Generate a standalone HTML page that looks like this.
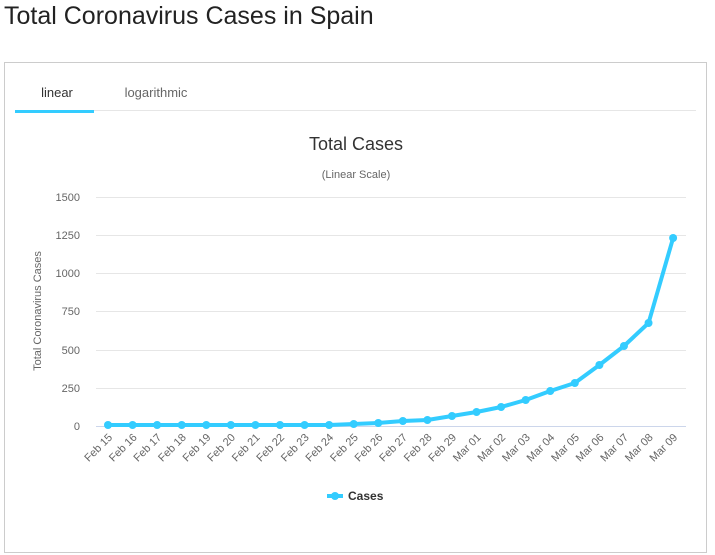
<!DOCTYPE html>
<html><head><meta charset="utf-8"><style>
body{margin:0;background:#fff;width:715px;height:555px;overflow:hidden;font-family:"Liberation Sans",sans-serif}
h1{position:absolute;left:4px;top:2px;margin:0;font-weight:normal;font-size:25px;color:#222}
.card{position:absolute;left:4px;top:62px;width:701px;height:489px;border:1px solid #ccc}
</style></head><body>
<h1>Total Coronavirus Cases in Spain</h1>
<div class="card"></div>
<svg width="715" height="555" style="position:absolute;left:0;top:0" font-family="Liberation Sans, sans-serif">
<line x1="15" y1="110.5" x2="696" y2="110.5" stroke="#e6e6e6"/>
<rect x="15" y="110" width="79" height="3" fill="#33ccff"/>
<text x="57" y="97" font-size="13" fill="#333" text-anchor="middle">linear</text>
<text x="156" y="97" font-size="13" fill="#666" text-anchor="middle">logarithmic</text>
<text x="356" y="150" font-size="18" fill="#333" text-anchor="middle">Total Cases</text>
<text x="356" y="178" font-size="11" fill="#666" text-anchor="middle">(Linear Scale)</text>
<g stroke="#e6e6e6">
<line x1="96" y1="197.5" x2="686" y2="197.5"/><line x1="96" y1="235.5" x2="686" y2="235.5"/>
<line x1="96" y1="273.5" x2="686" y2="273.5"/><line x1="96" y1="311.5" x2="686" y2="311.5"/>
<line x1="96" y1="350.5" x2="686" y2="350.5"/><line x1="96" y1="388.5" x2="686" y2="388.5"/>
</g>
<line x1="96" y1="426.5" x2="686" y2="426.5" stroke="#ccd6eb"/>
<g font-size="11" fill="#666" text-anchor="end">
<text x="80" y="201">1500</text><text x="80" y="239">1250</text><text x="80" y="277">1000</text>
<text x="80" y="315">750</text><text x="80" y="354">500</text><text x="80" y="392">250</text><text x="80" y="430">0</text>
</g>
<text transform="translate(41,311) rotate(-90)" font-size="11" fill="#666" text-anchor="middle">Total Coronavirus Cases</text>
<g font-size="11" fill="#666" text-anchor="end" id="xl"></g>
<polyline fill="none" stroke="#33ccff" stroke-width="4" stroke-linejoin="round" id="ln"/>
<g fill="#33ccff" id="pts"></g>
<line x1="327" y1="496" x2="343" y2="496" stroke="#33ccff" stroke-width="4"/>
<circle cx="335" cy="496" r="4" fill="#33ccff"/>
<text x="348" y="500" font-size="12" font-weight="bold" fill="#333">Cases</text>
</svg>
<script>
var ys=[425,425,425,425,425,425,425,425,425,425,424,423,421,420,416,412,407,400,391,383,365,346,323,238];
var lb=["Feb 15","Feb 16","Feb 17","Feb 18","Feb 19","Feb 20","Feb 21","Feb 22","Feb 23","Feb 24","Feb 25","Feb 26","Feb 27","Feb 28","Feb 29","Mar 01","Mar 02","Mar 03","Mar 04","Mar 05","Mar 06","Mar 07","Mar 08","Mar 09"];
var ns="http://www.w3.org/2000/svg",p=[],g=document.getElementById("pts"),xl=document.getElementById("xl");
for(var i=0;i<24;i++){var x=108+i*24.57;p.push(x+","+ys[i]);
var c=document.createElementNS(ns,"circle");c.setAttribute("cx",x);c.setAttribute("cy",ys[i]);c.setAttribute("r",4);g.appendChild(c);
var t=document.createElementNS(ns,"text");t.setAttribute("transform","translate("+(x+5)+",438) rotate(-45)");t.textContent=lb[i];xl.appendChild(t);}
document.getElementById("ln").setAttribute("points",p.join(" "));
</script>
</body></html>
